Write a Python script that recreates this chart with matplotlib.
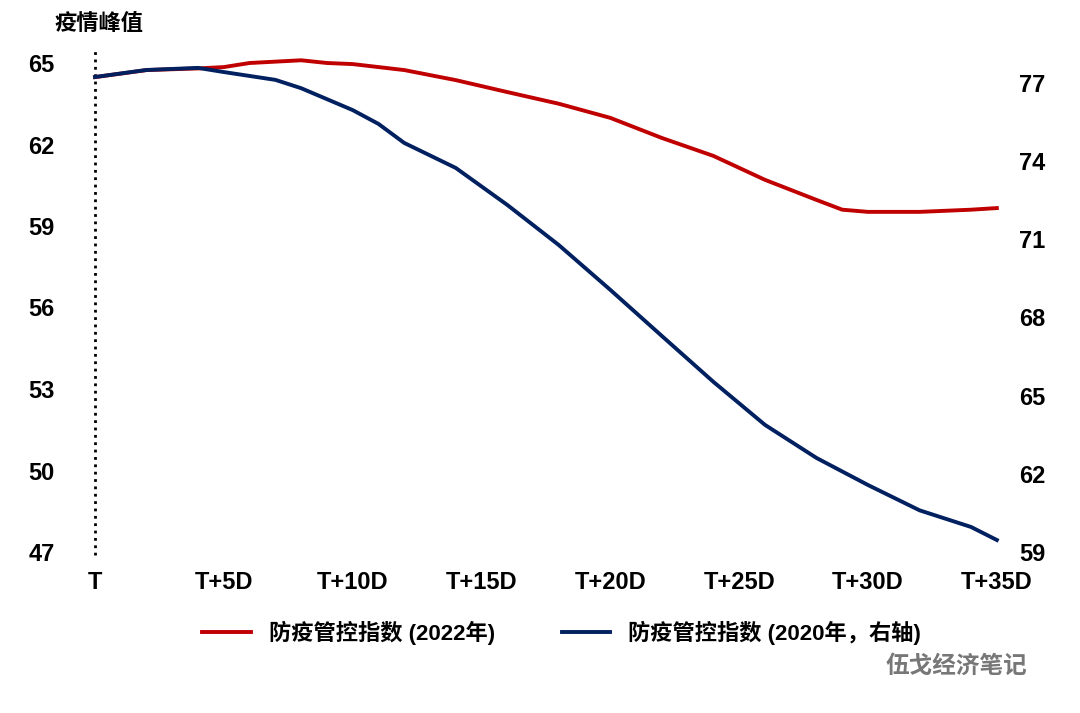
import matplotlib
matplotlib.use("Agg")
import matplotlib.pyplot as plt

plt.rcParams["font.family"] = ["Liberation Sans", "Noto Sans CJK SC"]
plt.rcParams["font.weight"] = "bold"

red_days = [0, 2, 4, 5, 6, 8, 9, 10, 12, 14, 16, 18, 20, 22, 24, 26, 28, 29, 30, 32, 34, 35]
red_vals = [64.48, 64.74, 64.8, 64.85, 65.0, 65.1, 65.0, 64.96, 64.74, 64.37, 63.93, 63.5, 62.98,
            62.24, 61.58, 60.7, 59.96, 59.6, 59.52, 59.52, 59.6, 59.66]
blue_days = [0, 2, 4, 5, 7, 8, 10, 11, 12, 14, 16, 18, 20, 22, 24, 26, 28, 30, 32, 34, 35]
blue_vals = [77.23, 77.5, 77.58, 77.42, 77.12, 76.8, 75.96, 75.43, 74.7, 73.74, 72.32, 70.78, 69.06,
             67.29, 65.53, 63.88, 62.61, 61.57, 60.6, 59.96, 59.46]
xtick_pos = [0, 5, 10, 15, 20, 25, 30, 35]
xtick_labels = ["T", "T+5D", "T+10D", "T+15D", "T+20D", "T+25D", "T+30D", "T+35D"]
left_ticks = [47, 50, 53, 56, 59, 62, 65]
right_ticks = [59, 62, 65, 68, 71, 74, 77]

fig = plt.figure(figsize=(10.8, 7.13), dpi=100)
ax = fig.add_axes([0.088, 1 - 552 / 713, 0.835, (552 - 63) / 713])
ax2 = ax.twinx()
red, = ax.plot(red_days, red_vals, color="#C00000", lw=2.8, clip_on=False,
               label="防疫管控指数 (2022年)")
blue, = ax2.plot(blue_days, blue_vals, color="#002060", lw=2.8, clip_on=False,
                 label="防疫管控指数 (2020年，右轴)")
ax.set_xlim(0, 35)
ax.set_ylim(47, 65)
ax2.set_ylim(59, 59 + 18 * 489 / 469)
ax.set_yticks(left_ticks)
ax2.set_yticks(right_ticks)
ax.set_xticks(xtick_pos, xtick_labels)
for a in (ax, ax2):
    for s in a.spines.values():
        s.set_visible(False)
    a.tick_params(length=0, labelsize=17)
ax.tick_params(axis="y", pad=48)
ax.tick_params(axis="x", pad=14)
ax2.tick_params(axis="y", pad=16)
for t in ax.get_yticklabels():
    t.set_horizontalalignment("left")
ax.plot([0, 0], [46.9, 65.5], ls=":", color="black", lw=2, clip_on=False)
fig.text(0.05, 0.965, "疫情峰值", fontsize=16, fontweight="bold", va="center")
fig.legend(handles=[red, blue], loc="center", bbox_to_anchor=(0.52, 0.113), ncol=2,
           frameon=False, prop={"size": 16, "weight": "bold"}, handlelength=2.2,
           columnspacing=3)
fig.text(0.82, 0.065, "伍戈经济笔记", fontsize=17, color="#777777", va="center")
fig.savefig("out.png", dpi=100)
